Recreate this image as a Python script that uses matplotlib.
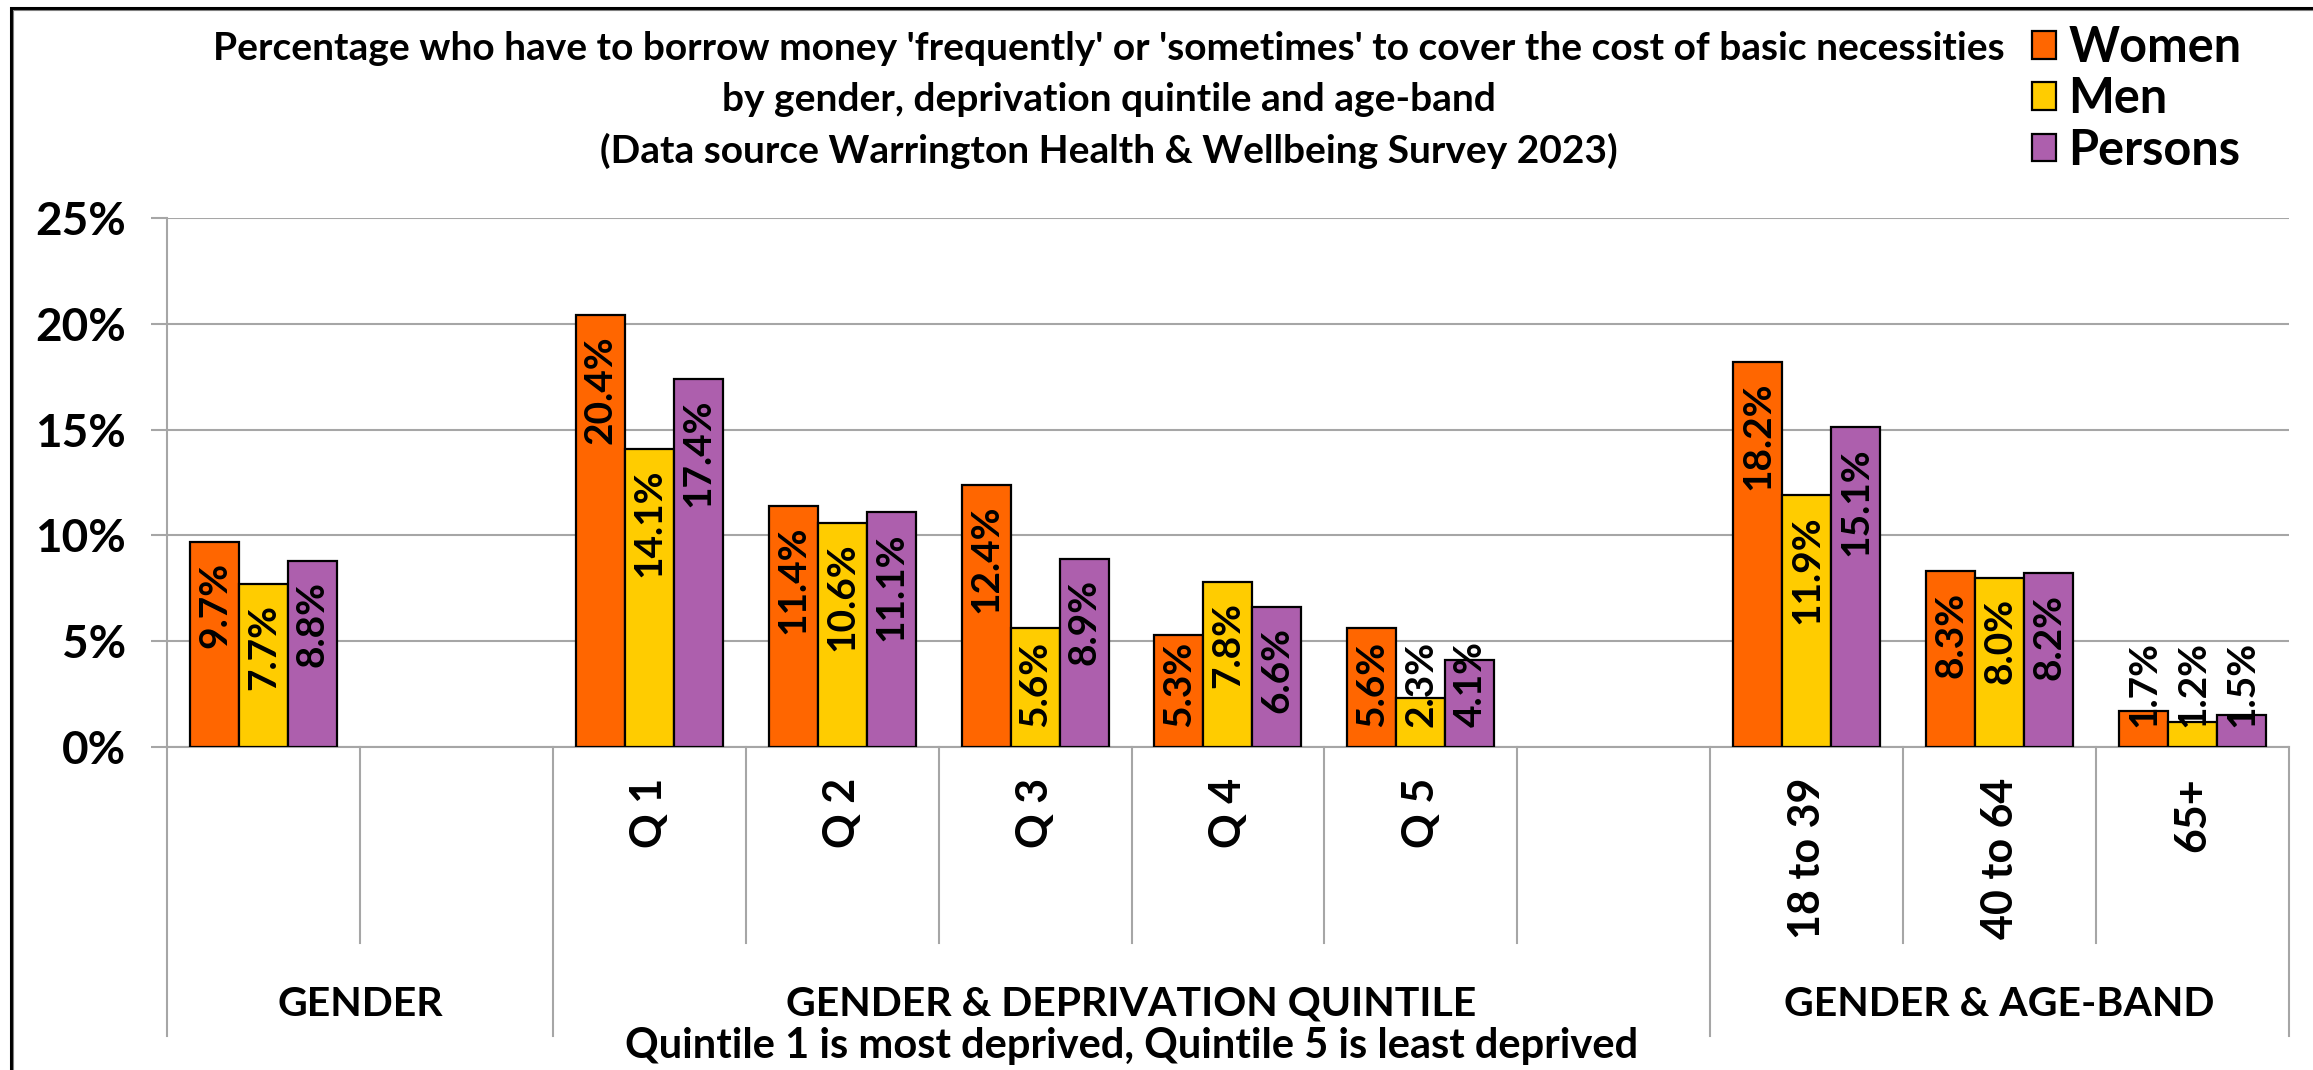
import numpy as np
from matplotlib import pyplot as plt
from matplotlib.patches import Rectangle

plt.rcParams["font.family"] = ["Lato", "DejaVu Sans"]
plt.rcParams["font.weight"] = "bold"

categories = ["GENDER", "", "Q 1", "Q 2", "Q 3", "Q 4", "Q 5", "", "18 to 39", "40 to 64", "65+"]
women = [9.7, np.nan, 20.4, 11.4, 12.4, 5.3, 5.6, np.nan, 18.2, 8.3, 1.7]
men = [7.7, np.nan, 14.1, 10.6, 5.6, 7.8, 2.3, np.nan, 11.9, 8.0, 1.2]
persons = [8.8, np.nan, 17.4, 11.1, 8.9, 6.6, 4.1, np.nan, 15.1, 8.2, 1.5]
series_names = ["Women", "Men", "Persons"]
series_colors = ["#FF6600", "#FFCC00", "#AD5FAD"]

# (label, first slot, last slot)
groups = [("GENDER", 0, 1), ("GENDER & DEPRIVATION QUINTILE", 2, 7), ("GENDER & AGE-BAND", 8, 10)]
group_note = "Quintile 1 is most deprived, Quintile 5 is least deprived"

title_lines = [
    "Percentage who have to borrow money 'frequently' or 'sometimes' to cover the cost of basic necessities",
    "by gender, deprivation quintile and age-band",
    "(Data source Warrington Health & Wellbeing Survey 2023)",
]

grey = "#A6A6A6"
fig = plt.figure(figsize=(23.13, 10.70), dpi=100)
ax = fig.add_axes([0.0722, 0.3019, 0.9174, 0.4944])

x = np.arange(len(categories))
w = 0.254
label_len = 4.6
pad = 0.95
handles = []
for k, (vals, name, col) in enumerate(zip([women, men, persons], series_names, series_colors)):
    xs = x + (k - 1) * w
    b = ax.bar(xs, vals, w, color=col, edgecolor="black", linewidth=1.6, label=name, zorder=3)
    handles.append(b)
    for xi, v in zip(xs, vals):
        if np.isnan(v):
            continue
        # labels sit at the top inside the bar, short bars get them from the base up
        if v - pad - label_len < pad:
            ax.text(xi, pad, f"{v:.1f}%", rotation=90, ha="center", va="bottom",
                    fontsize=28, fontweight="bold", zorder=4)
        else:
            ax.text(xi, v - pad, f"{v:.1f}%", rotation=90, ha="center", va="top",
                    fontsize=28, fontweight="bold", zorder=4)

ax.set_xlim(-0.5, len(categories) - 0.5)
ax.set_ylim(0, 25)
ax.set_yticks(np.arange(0, 26, 5))
ax.set_yticklabels([f"{t}%" for t in range(0, 26, 5)], fontsize=33, fontweight="bold")
ax.tick_params(axis="y", length=11.5, width=1.5, color=grey, pad=18)
ax.set_xticks(x)
ax.set_xticklabels(categories, rotation=90, fontsize=31, fontweight="bold", va="top")
ax.tick_params(axis="x", length=0, pad=22)
ax.xaxis.get_ticklabels()[0].set_visible(False)
ax.yaxis.grid(True, color=grey, linewidth=1.5, zorder=0)
ax.set_axisbelow(True)
for s in ["top", "right"]:
    ax.spines[s].set_visible(False)
for s in ["left", "bottom"]:
    ax.spines[s].set_color(grey)
    ax.spines[s].set_linewidth(1.5)

# category separators below the axis
trans = ax.get_xaxis_transform()
bounds = {g[1] for g in groups} | {len(categories)}
for i in range(len(categories) + 1):
    bottom = -0.5463 if i in bounds else -0.3705
    ax.plot([i - 0.5, i - 0.5], [0, bottom], color=grey, lw=1.5, transform=trans, clip_on=False)

for name, a, b in groups:
    ax.text((a + b) / 2, -0.486, name, transform=trans, ha="center", va="center",
            fontsize=29.5, fontweight="bold")
ax.text((groups[1][1] + groups[1][2]) / 2, -0.566, group_note, transform=trans,
        ha="center", va="center", fontsize=30, fontweight="bold")

for i, line in enumerate(title_lines):
    fig.text(0.4795, 1 - (48 + 51.5 * i) / 1070, line, ha="center", va="center",
             fontsize=28, fontweight="bold")

ax.legend(handles=handles, loc="upper left", bbox_to_anchor=(0.8785, 0.9766),
          bbox_transform=fig.transFigure, frameon=False, fontsize=35,
          handlelength=0.5, handleheight=0.5, handletextpad=0.25, labelspacing=0.13,
          borderpad=0, borderaxespad=0)

fig.add_artist(Rectangle((0.0048, -0.1), 2, 1.0925, transform=fig.transFigure,
                         fill=False, edgecolor="black", linewidth=2.2))
fig.add_artist(Rectangle((0.0058, -0.1), 2, 1.0905, transform=fig.transFigure,
                         fill=False, edgecolor="#808080", linewidth=0.8))

fig.savefig("out.png", dpi=100)
